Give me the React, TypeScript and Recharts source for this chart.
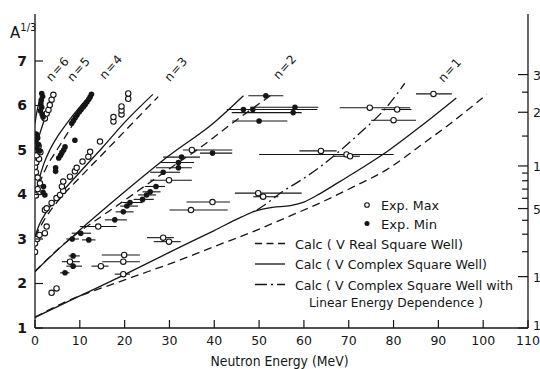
import {
  ComposedChart,
  Line,
  Scatter,
  ErrorBar,
  XAxis,
  YAxis,
  ReferenceDot,
  Legend,
} from "recharts";

const INK = "#161616";
const FONT = "'DejaVu Sans', sans-serif";
const Y_TOP = 8.056;

// axis ticks
const energyTicks = [0, 10, 20, 30, 40, 50, 60, 70, 80, 90, 100, 110];
const topTicks = [10, 20, 30, 40, 50, 60, 70, 80, 90, 100];
const a13Ticks = [1, 2, 3, 4, 5, 6, 7];
const massTicks = [1, 10, 20, 30, 40, 50, 60, 70, 80, 90, 100, 150, 200, 250, 300];
const massLabels = [1, 10, 50, 100, 200, 300];

// [E, A^1/3, barLow, barHigh]
const expMax: number[][] = [
  [0, 2.71], [0, 2.9], [0.5, 3.0], [1.0, 3.09], [2.2, 3.13], [2.6, 3.28],
  [0.2, 3.98], [0.6, 4.12], [1.1, 4.25], [0.2, 4.5], [0.6, 4.38],
  [0, 4.62], [0.3, 4.72], [0.9, 4.8], [0.4, 4.88], [1.2, 4.95], [0.2, 5.02], [0.8, 5.08],
  [2.2, 5.71], [2.6, 5.82], [3.0, 5.9], [3.3, 6.01], [3.7, 6.13], [4.1, 6.24],
  [2.2, 3.65], [2.6, 3.69], [3.7, 3.81], [4.8, 3.92], [5.6, 3.99], [6.3, 4.08],
  [6.0, 4.18], [6.3, 4.29], [7.8, 4.4], [8.9, 4.52], [9.3, 4.6], [10.6, 4.74],
  [11.9, 4.85], [12.3, 4.96], [14.5, 5.19], [17.5, 5.64], [17.5, 5.74], [19.3, 5.8],
  [19.3, 5.89], [19.3, 5.98], [20.8, 6.15], [20.8, 6.27],
  [3.7, 1.79], [4.8, 1.89],
  [7.8, 2.49, 6, 10], [14.7, 2.39, 12.6, 16.4], [19.9, 2.64, 14.9, 23.4],
  [19.7, 2.49, 15, 23.4], [19.7, 2.21, 17.8, 21.2], [14.1, 3.28, 10, 18.2],
  [28.6, 3.03, 25, 31], [29.9, 2.94, 26.5, 32.5], [29.9, 4.32, 25.7, 35],
  [34.8, 3.65, 30, 43], [39.6, 3.83, 33.8, 43.5], [35, 5.0, 33, 44],
  [49.8, 4.03, 44.6, 59.5], [50.9, 3.95, 48.7, 54.3], [63.8, 4.98, 59, 67.3],
  [69.5, 4.9, 50, 80], [70.3, 4.86, 66.5, 72.5], [74.7, 5.95, 68, 83.7],
  [80.8, 5.91, 77.3, 84], [80, 5.67, 75, 85], [88.9, 6.26, 85, 93],
];

const expMin: number[][] = [
  [1.5, 6.27], [1.7, 6.2], [1.4, 6.12], [1.3, 6.04], [1.5, 5.96], [1.2, 5.88], [1.6, 5.8], [1.8, 5.74],
  [0.3, 5.36], [0.6, 5.27], [0.2, 5.18], [0.8, 5.12], [0.4, 5.04], [1.0, 4.98],
  [1.9, 4.18], [2.2, 3.99], [1.8, 4.05],
  [12.6, 6.25], [12.3, 6.19], [12.0, 6.14], [11.6, 6.08], [11.2, 6.02], [10.8, 5.97],
  [10.3, 5.91], [9.9, 5.86], [9.4, 5.79], [9.0, 5.73], [8.6, 5.66], [8.2, 5.6],
  [8.9, 5.22], [6.7, 5.07], [6.4, 5.0], [6.0, 4.94], [5.7, 4.88], [5.3, 4.82], [4.6, 4.6], [4.6, 4.52],
  [10.2, 3.13, 8.2, 12.5], [8.3, 3.0, 7, 9.8], [12, 2.98, 10.5, 13.5], [8.5, 2.62, 7.5, 10],
  [8.5, 2.39, 7, 10.5], [6.7, 2.24, 5.6, 7.7], [17.8, 3.43, 15.6, 20.5],
  [19.7, 3.61, 18, 22], [20.5, 3.74, 19, 23], [21.2, 3.82, 19.5, 24], [24, 3.89, 22, 26.5],
  [24.9, 3.99, 23, 27], [25.7, 4.06, 24, 28], [27, 4.18, 24.5, 29], [28.6, 4.5, 25.7, 32.4],
  [32, 4.6, 27, 35], [32, 4.72, 28, 35.5], [32.7, 4.84, 28.6, 36.8], [39.6, 4.93, 36.8, 44],
  [51.5, 6.22, 47.6, 55.4], [46.5, 5.91, 42.8, 50], [48.6, 5.91, 44, 63], [58, 5.96, 48, 63.2],
  [57.6, 5.84, 43.9, 59.5], [50, 5.65, 44, 56.3],
];

// calculated curves [E, A^1/3]
const n1Real = [[0, 1.24], [6, 1.55], [20, 2.08], [32.4, 2.53], [40, 2.83], [49.5, 3.2], [56, 3.48], [63.6, 3.81], [71, 4.17], [78.5, 4.56], [86, 5.1], [93, 5.62], [100.8, 6.25]];
const n1Complex = [[0, 1.24], [10, 1.72], [20, 2.2], [32, 2.8], [40, 3.19], [46, 3.49], [49.5, 3.64], [53, 3.71], [57, 3.75], [60, 3.83], [63.6, 4.02], [68, 4.29], [73, 4.6], [78.5, 4.96], [85.9, 5.52], [94, 6.17]];
const n1Linear = [[49.5, 3.65], [52, 3.82], [55, 4.05], [59, 4.3], [63.6, 4.62], [68, 4.98], [72.5, 5.38], [78.5, 5.97], [82.5, 6.5]];
const n2Real = [[0, 2.27], [5, 2.76], [10, 3.17], [15, 3.52], [20, 3.87], [30, 4.58], [36.8, 5.05], [44, 5.6], [52.8, 6.24]];
const n2Complex = [[0, 2.27], [5, 2.75], [10, 3.2], [20, 4.06], [30, 4.88], [40, 5.62], [46.5, 6.22]];
const n3Real = [[0, 3.05], [2, 3.42], [5, 3.84], [10, 4.38], [15, 4.9], [20, 5.42], [27.5, 6.2]];
const n3Complex = [[0, 3.05], [1, 3.33], [2.5, 3.6], [5, 3.93], [10, 4.5], [15, 5.05], [20, 5.62], [26.3, 6.25]];
const n4Real = [[0, 3.95], [1, 4.25], [2.5, 4.6], [5.2, 5.05], [8, 5.5], [11.9, 6.18]];
const n4Complex = [[0, 3.95], [0.8, 4.3], [2, 4.7], [3.3, 5.0], [5, 5.3], [7.1, 5.6], [10, 5.97], [12.6, 6.26]];
const n5Complex = [[0, 4.85], [0.5, 5.15], [1.5, 5.5], [2.8, 5.88], [4.5, 6.24]];
const n6Complex = [[0, 5.6], [0.4, 5.85], [1.0, 6.1], [1.6, 6.3]];

const curveLabels: [string, number, number][] = [
  ["n=6", 5.1, 6.82], ["n=5", 9.8, 6.82], ["n=4", 17.0, 6.87],
  ["n=3", 31.5, 6.82], ["n=2", 55.8, 6.87], ["n=1", 92.6, 6.8],
];

const DASH = "8 5";
const DASHDOT = "11 4 2 4";

const curves = [
  { d: n1Real, dash: DASH }, { d: n1Complex, dash: undefined }, { d: n1Linear, dash: DASHDOT },
  { d: n2Real, dash: DASH }, { d: n2Complex, dash: undefined },
  { d: n3Real, dash: DASH }, { d: n3Complex, dash: undefined },
  { d: n4Real, dash: DASH }, { d: n4Complex, dash: undefined },
  { d: n5Complex, dash: undefined }, { d: n6Complex, dash: undefined },
];

const toPoints = (rows: number[][]) => rows.map(([x, y]) => ({ x, y }));
const toExp = (rows: number[][]) =>
  rows.map(([x, y, lo, hi]) => ({
    x,
    y,
    err: lo === undefined ? [0, 0] : [x - lo, hi - x],
  }));

const BottomTick = ({ x, y, payload }: any) => (
  <g>
    <line x1={x} x2={x} y1={y} y2={y - 8} stroke={INK} strokeWidth={1.2} />
    <text x={x} y={y + 17} textAnchor="middle" fontSize={12.5} fill={INK} fontFamily={FONT}>
      {payload.value}
    </text>
  </g>
);

const TopTick = ({ x, y }: any) => (
  <line x1={x} x2={x} y1={y} y2={y + 9} stroke={INK} strokeWidth={1.2} />
);

const LeftTick = ({ x, y, payload }: any) => (
  <g>
    <line x1={x} x2={x + 8} y1={y} y2={y} stroke={INK} strokeWidth={1.2} />
    <text x={x - 8} y={y + 5} textAnchor="end" fontSize={14} fontWeight="bold" fill={INK} fontFamily={FONT}>
      {payload.value}
    </text>
  </g>
);

// right axis: mass number A on the cube-root scale
const RightTick = ({ x, y, payload }: any) => {
  const a = Math.round(Math.pow(payload.value, 3));
  const major = massLabels.includes(a);
  return (
    <g>
      <line x1={x} x2={x - (major ? 10 : 6)} y1={y} y2={y} stroke={INK} strokeWidth={1.2} />
      {major && (
        <text x={x + 5} y={a === 1 ? y + 2 : y + 5} fontSize={12.5} fill={INK} fontFamily={FONT}>
          {a}
        </text>
      )}
    </g>
  );
};

const OpenDot = (p: any) => (
  <circle cx={p.cx} cy={p.cy} r={2.7} fill="#fff" stroke={INK} strokeWidth={1.1} />
);
const FilledDot = (p: any) => <circle cx={p.cx} cy={p.cy} r={2.8} fill={INK} />;

const legendRows = [
  { kind: "open", text: "Exp. Max", len: 58 },
  { kind: "filled", text: "Exp. Min", len: 56 },
  { kind: "dash", text: "Calc ( V Real Square Well)", len: 168 },
  { kind: "solid", text: "Calc ( V Complex Square Well)", len: 192 },
  { kind: "dashdot", text: "Calc ( V Complex Square Well with", len: 218 },
  { kind: "none", text: "Linear Energy Dependence )", len: 174 },
];

const LegendBox = () => {
  const rowY = [10, 28.5, 48.5, 69, 89.5, 107];
  return (
    <svg width={290} height={125} style={{ display: "block" }}>
      {legendRows.map((r, i) => {
        const y = rowY[i];
        const marker =
          r.kind === "open" ? (
            <circle cx={117} cy={y} r={2.3} fill="#fff" stroke={INK} strokeWidth={1.1} />
          ) : r.kind === "filled" ? (
            <circle cx={117} cy={y} r={2.5} fill={INK} />
          ) : r.kind === "none" ? null : (
            <line
              x1={5}
              x2={35}
              y1={y}
              y2={y}
              stroke={INK}
              strokeWidth={1.3}
              strokeDasharray={r.kind === "dash" ? "7 4.5" : r.kind === "dashdot" ? "12 4 2 4" : undefined}
            />
          );
        const tx = r.kind === "open" || r.kind === "filled" ? 131 : r.kind === "none" ? 59 : 45;
        return (
          <g key={i}>
            {marker}
            <text
              x={tx}
              y={y + 5}
              fontSize={13}
              fill={INK}
              fontFamily={FONT}
              textLength={r.len}
              lengthAdjust="spacingAndGlyphs"
            >
              {r.text}
            </text>
          </g>
        );
      })}
    </svg>
  );
};

export default function App() {
  return (
    <div
      style={{
        position: "fixed",
        left: 0,
        top: 0,
        width: 540,
        height: 369,
        overflow: "hidden",
        background: "#fff",
      }}
    >
      <ComposedChart width={560} height={369} margin={{ top: 14, right: 0, bottom: 0, left: 0 }}>
        <XAxis
          type="number"
          dataKey="x"
          domain={[0, 110]}
          ticks={energyTicks}
          height={41}
          tickSize={0}
          tickMargin={0}
          tick={<BottomTick />}
          axisLine={{ stroke: INK, strokeWidth: 1.3 }}
          allowDataOverflow
          interval={0}
          label={{
            content: (p: any) => {
              const vb = p.viewBox;
              return (
                <text
                  x={vb.x + vb.width / 2 - 2}
                  y={vb.y + 38}
                  textAnchor="middle"
                  fontSize={13.5}
                  fill={INK}
                  fontFamily={FONT}
                  textLength={138}
                  lengthAdjust="spacingAndGlyphs"
                >
                  Neutron Energy (MeV)
                </text>
              );
            },
          }}
        />
        <XAxis
          xAxisId="top"
          orientation="top"
          type="number"
          domain={[0, 110]}
          ticks={topTicks}
          height={0}
          tickSize={0}
          tickMargin={0}
          tick={<TopTick />}
          axisLine={{ stroke: INK, strokeWidth: 1.3 }}
          allowDataOverflow
          interval={0}
        />
        <YAxis
          type="number"
          dataKey="y"
          domain={[1, Y_TOP]}
          ticks={a13Ticks}
          width={35}
          tickSize={0}
          tickMargin={0}
          tick={<LeftTick />}
          axisLine={{ stroke: INK, strokeWidth: 1.3 }}
          allowDataOverflow
          interval={0}
          label={{
            content: (p: any) => {
              const vb = p.viewBox;
              return (
                <text x={vb.x + 10} y={vb.y + 24} fontSize={15} fill={INK} fontFamily={FONT}>
                  A
                  <tspan fontSize={10} dy={-7}>
                    1/3
                  </tspan>
                </text>
              );
            },
          }}
        />
        <YAxis
          yAxisId="right"
          orientation="right"
          type="number"
          domain={[1, Y_TOP]}
          ticks={massTicks.map((a) => Math.cbrt(a))}
          width={32}
          tickSize={0}
          tickMargin={0}
          tick={<RightTick />}
          axisLine={{ stroke: INK, strokeWidth: 1.3 }}
          allowDataOverflow
          interval={0}
        />

        {curves.map((c, i) => (
          <Line
            key={`c${i}`}
            data={toPoints(c.d)}
            dataKey="y"
            type="monotone"
            dot={false}
            activeDot={false}
            stroke={INK}
            strokeWidth={1.3}
            strokeDasharray={c.dash}
            isAnimationActive={false}
            legendType="none"
          />
        ))}

        <Scatter data={toExp(expMax)} shape={<OpenDot />} isAnimationActive={false} legendType="none">
          <ErrorBar dataKey="err" direction="x" width={0} stroke={INK} strokeWidth={1.1} />
        </Scatter>
        <Scatter data={toExp(expMin)} shape={<FilledDot />} isAnimationActive={false} legendType="none">
          <ErrorBar dataKey="err" direction="x" width={0} stroke={INK} strokeWidth={1.1} />
        </Scatter>

        {curveLabels.map(([t, x, y]) => (
          <ReferenceDot
            key={t}
            x={x}
            y={y}
            r={0}
            fill="none"
            stroke="none"
            label={{
              content: (p: any) => {
                const vb = p.viewBox;
                const cx = vb.x + vb.width / 2;
                const cy = vb.y + vb.height / 2;
                return (
                  <text
                    x={cx}
                    y={cy}
                    transform={`rotate(-48 ${cx} ${cy})`}
                    textAnchor="middle"
                    dominantBaseline="central"
                    fontSize={12}
                    letterSpacing={1}
                    fill={INK}
                    fontFamily={FONT}
                  >
                    {t}
                  </text>
                );
              },
            }}
          />
        ))}

        <Legend
          layout="horizontal"
          verticalAlign="middle"
          align="center"
          wrapperStyle={{ left: 250, top: 195, width: 290, height: 125 }}
          content={() => <LegendBox />}
        />
      </ComposedChart>
    </div>
  );
}
